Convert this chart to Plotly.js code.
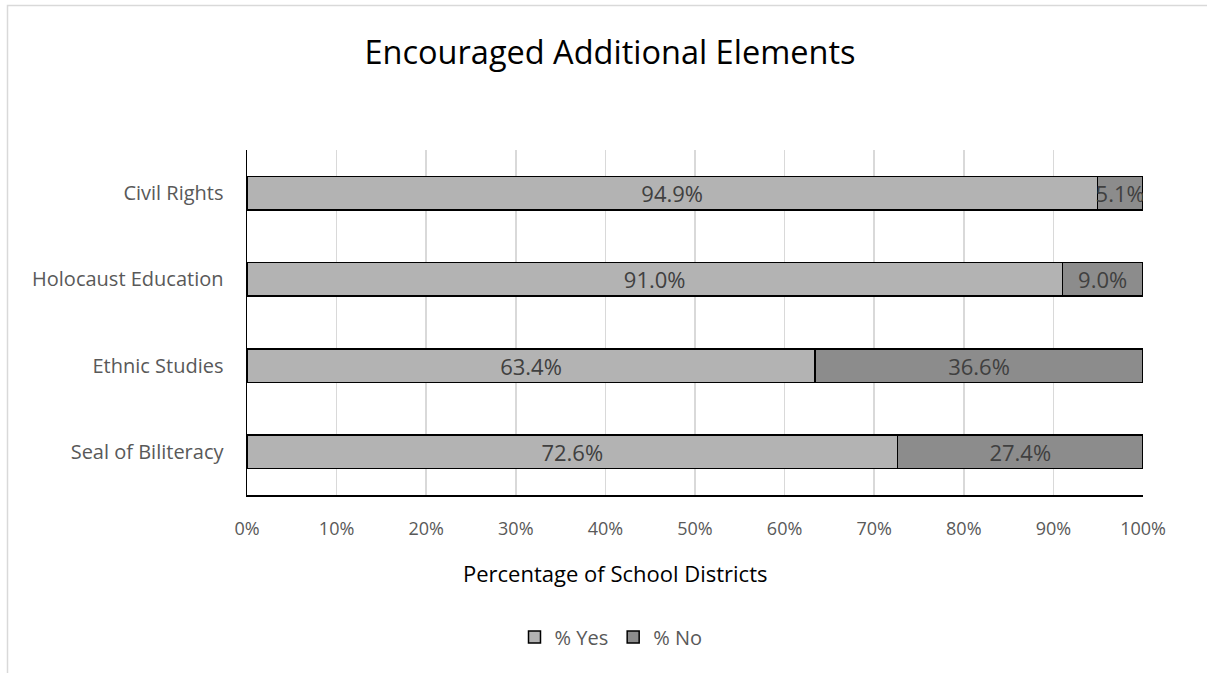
<!DOCTYPE html>
<html><head><meta charset="utf-8">
<script src="https://cdn.plot.ly/plotly-3.0.1.min.js"></script>
<style>html,body{margin:0;padding:0;background:#fff}#chart{width:1207px;height:673px}</style>
</head><body><div id="chart"></div>
<script>
const categories = ["Civil Rights", "Holocaust Education", "Ethnic Studies", "Seal of Biliteracy"];
const yesValues = [94.9, 91.0, 63.4, 72.6];
const noValues = [5.1, 9.0, 36.6, 27.4];
const seriesNames = ["% Yes", "% No"];
const xTicks = [0,10,20,30,40,50,60,70,80,90,100];

const fontFam = "Open Sans, sans-serif";
function mk(vals, name, color) {
  return {
    type: 'bar', orientation: 'h', y: categories, x: vals, name: name,
    marker: {color: color, line: {color: '#000', width: 1.5}},
    text: vals.map(v => v.toFixed(1) + '%'), textposition: 'inside',
    insidetextanchor: 'middle', textangle: 0, constraintext: 'none',
    textfont: {family: fontFam, size: 22, color: '#404040'},
    hoverinfo: 'skip'
  };
}
const data = [mk(yesValues, seriesNames[0], '#b3b3b3'), mk(noValues, seriesNames[1], '#8c8c8c')];
const layout = {
  width: 1207, height: 673,
  margin: {l: 247, r: 64, t: 150, b: 178},
  barmode: 'stack', bargap: 0.61,
  paper_bgcolor: '#fff', plot_bgcolor: '#fff',
  font: {family: fontFam, color: '#595959'},
  title: {text: 'Encouraged Additional Elements', x: 610 / 1207, xref: 'container', xanchor: 'center',
    y: 1 - 53/673, yanchor: 'middle', font: {family: fontFam, size: 32.5, color: '#000'}},
  xaxis: {range: [0, 100], tickvals: xTicks, ticktext: xTicks.map(v => v + '%'),
    showgrid: true, gridcolor: '#d9d9d9', gridwidth: 1.5, zeroline: false,
    showline: true, linecolor: '#000', linewidth: 1.5, ticks: '', ticklen: 0,
    ticklabelstandoff: 17,
    tickfont: {size: 18, color: '#595959'}, fixedrange: true},
  yaxis: {autorange: 'reversed', showline: true, linecolor: '#000', linewidth: 1.5,
    ticks: '', ticklabelstandoff: 18, tickfont: {size: 20, color: '#595959'}, fixedrange: true},
  showlegend: true,
  legend: {orientation: 'h', x: (611 - 247) / 896, xanchor: 'center', y: -(637 - 495) / 345, yanchor: 'middle',
    font: {size: 20, color: '#595959'}, itemwidth: 30, traceorder: 'normal'},
  annotations: [{text: 'Percentage of School Districts', xref: 'paper', yref: 'paper',
    x: (615 - 247) / 896, y: -(573 - 495) / 345, xanchor: 'center', yanchor: 'middle', showarrow: false,
    font: {size: 22, color: '#000'}}],
  shapes: [{type: 'rect', xref: 'paper', yref: 'paper', x0: (7.5 - 247) / 896, x1: 1.2, y0: -1, y1: (495 - 5.5) / 345,
    line: {color: '#d9d9d9', width: 1.5}, layer: 'below'}]
};
Plotly.newPlot('chart', data, layout, {displayModeBar: false, staticPlot: true});
</script></body></html>
